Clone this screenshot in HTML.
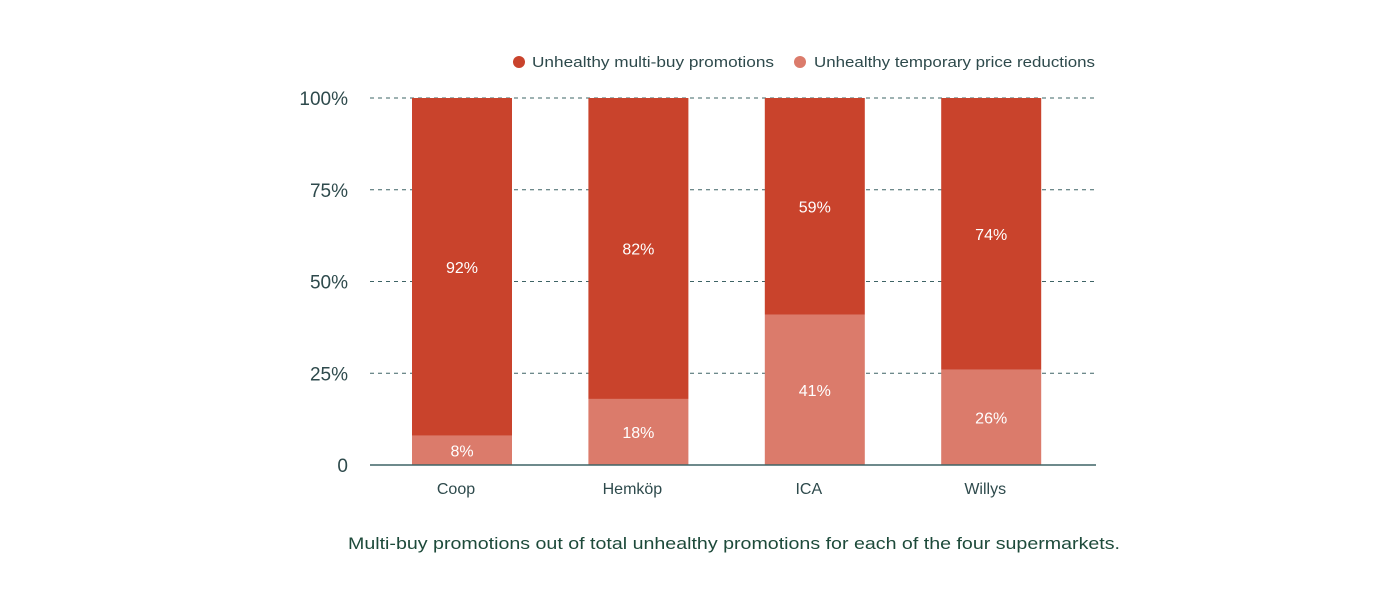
<!DOCTYPE html>
<html><head><meta charset="utf-8"><style>
html,body{margin:0;padding:0;background:#fff;width:1400px;height:600px;overflow:hidden}
svg{display:block;font-family:"Liberation Sans",sans-serif}
</style></head><body>
<svg id="chart" width="1400" height="600">
<g id="grid"></g>
<g id="bars"></g>
<g id="axes"></g>
<g>
<circle cx="519" cy="62" r="6" fill="#c9432c"/>
<text x="532" y="67" font-size="15" fill="#2e4a4c" textLength="242" lengthAdjust="spacingAndGlyphs">Unhealthy multi-buy promotions</text>
<circle cx="800" cy="62" r="6" fill="#db7b6b"/>
<text x="814" y="67" font-size="15" fill="#2e4a4c" textLength="281" lengthAdjust="spacingAndGlyphs">Unhealthy temporary price reductions</text>
</g>
<text x="348" y="549" font-size="17" fill="#1d4a3a" textLength="772" lengthAdjust="spacingAndGlyphs">Multi-buy promotions out of total unhealthy promotions for each of the four supermarkets.</text>
</svg>
<script>
const categories = ["Coop","Hemköp","ICA","Willys"];
const tprValues = [8,18,41,26];
const multiValues = [92,82,59,74];
const tickValues = [0,25,50,75,100];
const tickLabels = ["0","25%","50%","75%","100%"];
const NS="http://www.w3.org/2000/svg";
const y0=465, y1=98, xL=370, xR=1096;
const y=v=>y0-(v/100)*(y0-y1);
const x=i=>412+i*176.4;
const bw=100;
function mk(tag,attrs,parent){const e=document.createElementNS(NS,tag);for(const k in attrs)e.setAttribute(k,attrs[k]);parent.appendChild(e);return e;}
const grid=document.getElementById('grid'),bars=document.getElementById('bars'),axes=document.getElementById('axes');
tickValues.forEach((v,i)=>{
  if(v>0){const l=mk('line',{x1:xL,x2:xR,y1:y(v),y2:y(v),stroke:'#3e6466','stroke-width':1,'stroke-dasharray':'4,4'},grid);
  
  }
  const t=mk('text',{x:348,y:y(v)+7,'text-anchor':'end','font-size':19,fill:'#2e4a4c'},axes);
  t.textContent=tickLabels[i];
  
  
});
categories.forEach((c,i)=>{
  const a=tprValues[i], b=multiValues[i];
  const r1=mk('rect',{x:x(i),y:y(a),width:bw,height:y0-y(a),fill:'#db7b6b'},bars);
  
  
  const r2=mk('rect',{x:x(i),y:y(a+b),width:bw,height:y(a)-y(a+b),fill:'#c9432c'},bars);
  
  
  const t1=mk('text',{x:x(i)+bw/2,y:(y0+y(a))/2+6,'text-anchor':'middle','font-size':16,fill:'#fff'},bars);
  t1.textContent=a+'%';
  
  
  const t2=mk('text',{x:x(i)+bw/2,y:(y(a)+y(a+b))/2+6,'text-anchor':'middle','font-size':16,fill:'#fff'},bars);
  t2.textContent=b+'%';
  
  
  const xl=mk('text',{x:x(i)+bw/2-6,y:494,'text-anchor':'middle','font-size':16,fill:'#2e4a4c'},axes);
  xl.textContent=c;
  
  
});
const ax=mk('line',{x1:xL,x2:xR,y1:y0,y2:y0,stroke:'#3e6466','stroke-width':1.5},axes);


</script>
</body></html>
